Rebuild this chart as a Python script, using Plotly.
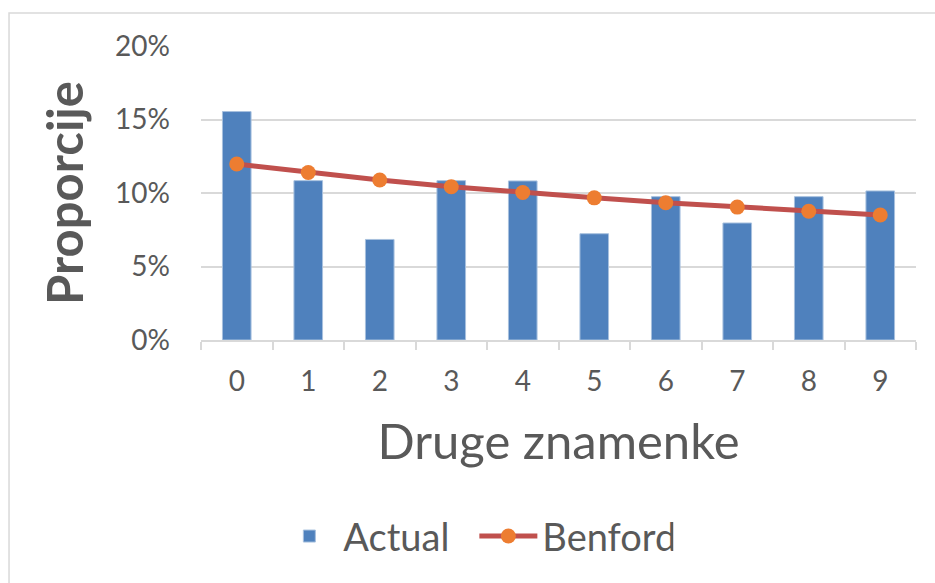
import plotly.graph_objects as go

digits = ["0", "1", "2", "3", "4", "5", "6", "7", "8", "9"]
actual = [0.1554, 0.1084, 0.0684, 0.1084, 0.1082, 0.0723, 0.0975, 0.0796, 0.0975, 0.1014]
benford = [0.1197, 0.1139, 0.1088, 0.1043, 0.1003, 0.0967, 0.0934, 0.0904, 0.0876, 0.0850]

FONT = "Lato"
GRAY = "#595959"
GRID = "#D9D9D9"

fig = go.Figure()
fig.add_trace(go.Bar(
    x=digits, y=actual, name="Actual",
    marker=dict(color="#4F81BD", line=dict(color="#A7C0DE", width=1)),
))
fig.add_trace(go.Scatter(
    x=digits, y=benford, name="Benford", mode="lines+markers",
    line=dict(color="#C0504D", width=5),
    marker=dict(color="#ED7D31", size=15),
))

fig.update_layout(
    width=935, height=583,
    margin=dict(l=201, r=19, t=46, b=243, autoexpand=False),
    plot_bgcolor="white", paper_bgcolor="white",
    bargap=0.6,
    font=dict(family=FONT, color=GRAY),
    showlegend=True,
    legend=dict(orientation="h", xref="container", yref="container",
                x=0.2945, xanchor="left", y=0.08, yanchor="middle",
                font=dict(size=38, color=GRAY), itemwidth=58,
                entrywidth=126, entrywidthmode="pixels"),
    xaxis=dict(
        type="category", range=[-0.5, 9.5], tickson="boundaries", ticks="outside", ticklen=8,
        tickcolor=GRID, tickwidth=1.5, showline=True, linecolor=GRID, linewidth=1.5,
        tickfont=dict(size=28, color=GRAY), ticklabelstandoff=16, automargin=False,
        title=dict(text="Druge znamenke", font=dict(size=49, color=GRAY), standoff=28),
    ),
    yaxis=dict(
        range=[0, 0.2], dtick=0.05, tickformat=".0%",
        showgrid=True, gridcolor=GRID, gridwidth=1.5, zeroline=False,
        tickfont=dict(size=28, color=GRAY), ticklabelstandoff=30, automargin=False,
        title=dict(text="<b>Proporcije</b>", font=dict(size=49, color=GRAY), standoff=15),
    ),
    shapes=[dict(type="rect", xref="paper", yref="paper",
                 x0=-0.2685, x1=1.04, y0=-0.9, y1=1.112,
                 line=dict(color=GRID, width=1.5), layer="below")],
)

fig.write_html("out.html", config={"displayModeBar": False},
               post_script="document.body.style.margin='0';")
